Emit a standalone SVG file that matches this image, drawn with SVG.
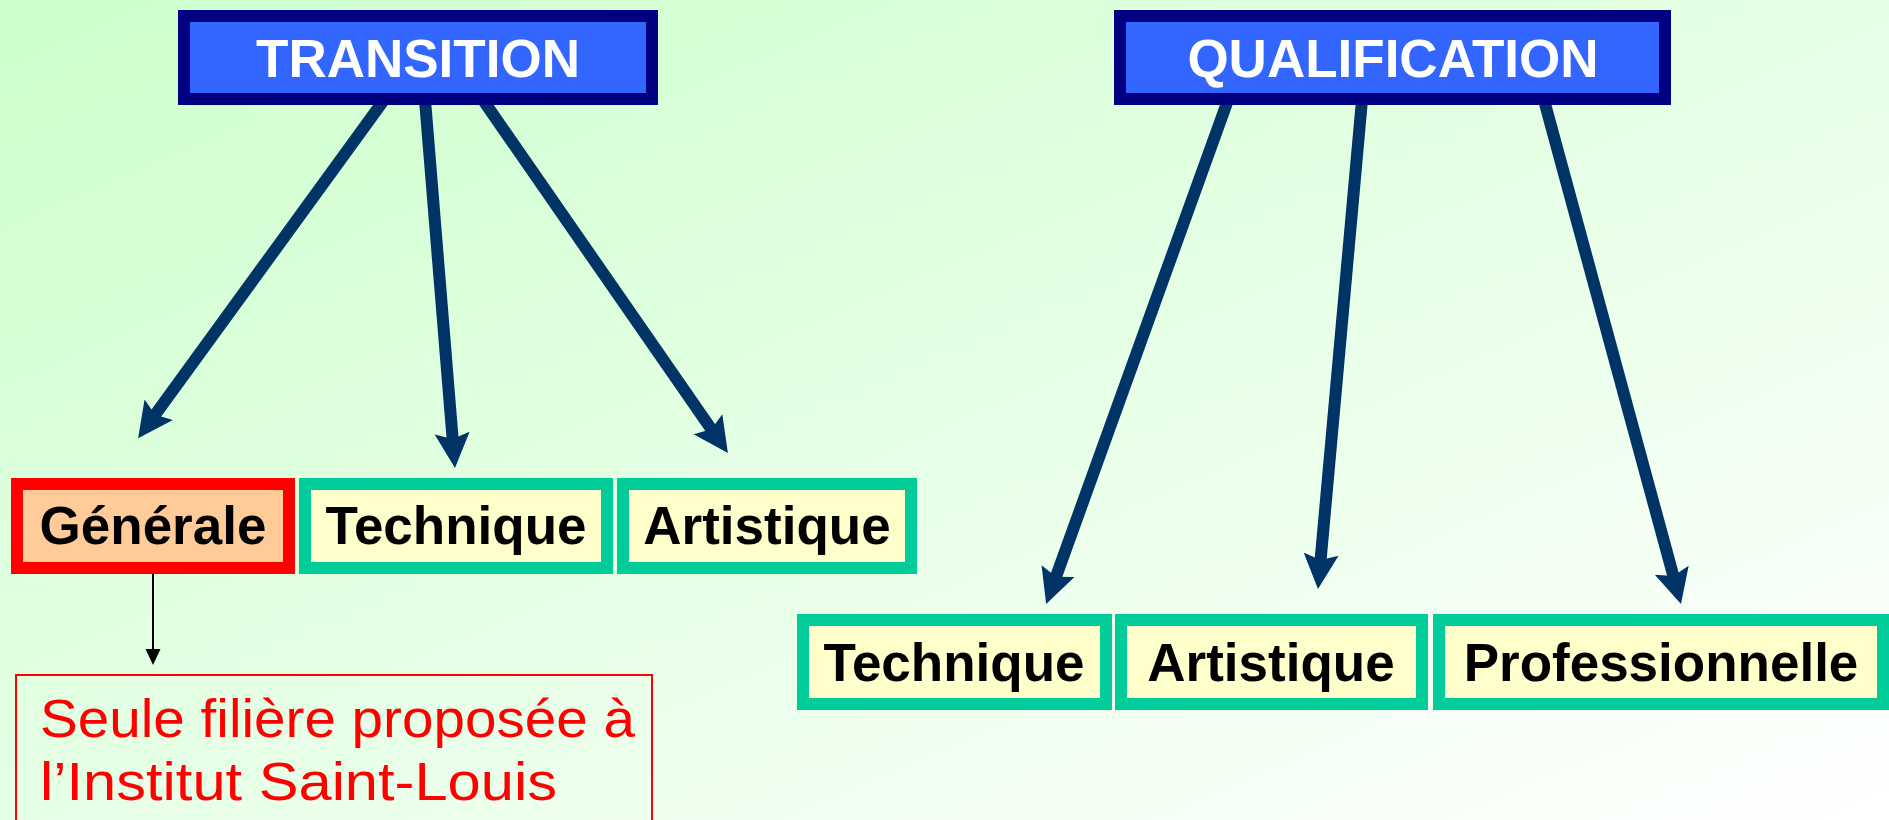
<svg xmlns="http://www.w3.org/2000/svg" width="1889" height="820" viewBox="0 0 1889 820">
<defs>
<linearGradient id="bg" x1="0" y1="0" x2="1" y2="1">
<stop offset="0" stop-color="#CCFFCC"/>
<stop offset="1" stop-color="#FFFFFF"/>
</linearGradient>
<marker id="ah" markerUnits="userSpaceOnUse" markerWidth="36" markerHeight="36" viewBox="0 0 36 36" refX="8" refY="18" orient="auto">
<path d="M0,0.5 L35,18 L0,35.5 L6,18 z" fill="#003366"/>
</marker>
<marker id="ahs" markerUnits="userSpaceOnUse" markerWidth="17" markerHeight="16" viewBox="0 0 17 16" refX="1" refY="8" orient="auto">
<path d="M0,0.5 L16,8 L0,15.5 z" fill="#000000"/>
</marker>
<style>
.title rect{fill:#3366FF;stroke:#000080;stroke-width:12}
.title text{fill:#FFFFFF;font-family:"Liberation Sans",Arial,sans-serif;font-weight:bold;font-size:53px;text-anchor:middle}
.opt rect{fill:#FFFFCC;stroke:#00CC99;stroke-width:12}
.opt text,.gen text{fill:#000000;font-family:"Liberation Sans",Arial,sans-serif;font-weight:bold;font-size:53px;text-anchor:middle}
.gen rect{fill:#FFCC99;stroke:#FF0000;stroke-width:12}
.conn line{stroke:#003366;stroke-width:12;fill:none;marker-end:url(#ah)}
.note rect{fill:none;stroke:#FF0000;stroke-width:2}
.note text{fill:#FF0000;font-family:"Comic Sans MS","Liberation Sans",sans-serif;font-size:53px}
</style>
</defs>
<rect x="0" y="0" width="1889" height="820" fill="url(#bg)"/>
<g id="connectors" class="conn">
<line x1="384" y1="100" x2="154" y2="416.3"/>
<line x1="425" y1="100" x2="452.8" y2="441.1"/>
<line x1="483" y1="100" x2="712.5" y2="430.9"/>
<line x1="1228" y1="100" x2="1055.3" y2="578.6"/>
<line x1="1362" y1="100" x2="1320.4" y2="562.1"/>
<line x1="1544" y1="100" x2="1673.9" y2="578"/>
<line x1="153" y1="574" x2="153" y2="650" style="stroke:#000000;stroke-width:2;marker-end:url(#ahs)"/>
</g>
<g id="transition" class="title">
<rect x="184" y="16" width="468" height="83"/>
<text x="418" y="77">TRANSITION</text>
</g>
<g id="qualification" class="title">
<rect x="1120" y="16" width="545" height="83"/>
<text x="1393" y="77">QUALIFICATION</text>
</g>
<g id="generale" class="gen">
<rect x="17" y="484" width="272" height="84"/>
<text x="153" y="544">Générale</text>
</g>
<g id="technique-t" class="opt">
<rect x="305" y="484" width="302" height="84"/>
<text x="456" y="544">Technique</text>
</g>
<g id="artistique-t" class="opt">
<rect x="623" y="484" width="288" height="84"/>
<text x="767" y="544">Artistique</text>
</g>
<g id="technique-q" class="opt">
<rect x="803" y="620" width="303" height="84"/>
<text x="954" y="681">Technique</text>
</g>
<g id="artistique-q" class="opt">
<rect x="1121" y="620" width="301" height="84"/>
<text x="1271" y="681">Artistique</text>
</g>
<g id="professionnelle" class="opt">
<rect x="1439" y="620" width="444" height="84"/>
<text x="1661" y="681">Professionnelle</text>
</g>
<g id="note" class="note">
<rect x="16" y="675" width="636" height="150"/>
<text x="40" y="737" textLength="595" lengthAdjust="spacingAndGlyphs">Seule filière proposée à</text>
<text x="40" y="800" textLength="517" lengthAdjust="spacingAndGlyphs">l’Institut Saint-Louis</text>
</g>
</svg>
